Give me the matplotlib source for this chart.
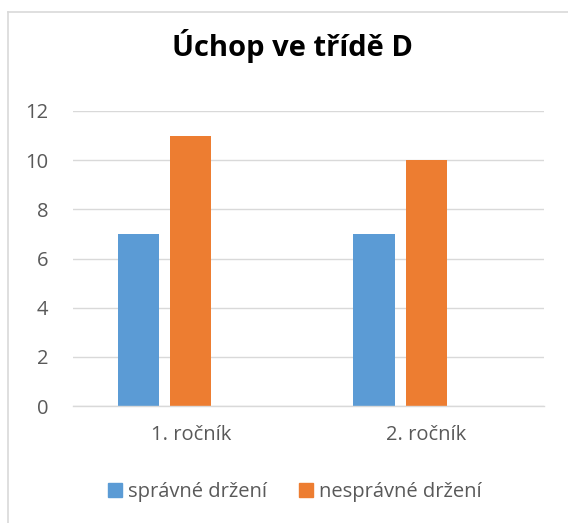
import numpy as np
import matplotlib.pyplot as plt
from matplotlib.lines import Line2D
from matplotlib.patches import Patch

plt.rcParams['font.family'] = ['Open Sans', 'DejaVu Sans']

# ---------------- data ----------------
categories = ['1. ročník', '2. ročník']
series_names = ['správné držení', 'nesprávné držení']
spravne = [7, 7]
nespravne = [11, 10]
title = 'Úchop ve třídě D'

blue, orange = '#5b9bd5', '#ed7d31'
grey_txt = '#595959'
grid_c = '#d9d9d9'

W, H = 568, 523
fig = plt.figure(figsize=(W / 100, H / 100), dpi=100)
ax = fig.add_axes([73 / W, 1 - 406 / H, (544 - 73) / W, (406 - 111) / H])

x = np.arange(len(categories))
bw, step = 0.1755, 0.2225
ax.bar(x - step, spravne, width=bw, color=blue, label=series_names[0])
ax.bar(x, nespravne, width=bw, color=orange, label=series_names[1])

ax.set_xlim(-0.5, len(categories) - 0.5)
ax.set_ylim(0, 12)
ax.set_yticks(np.arange(0, 13, 2))
ax.set_xticks(x)
ax.set_xticklabels(categories)
ax.yaxis.grid(True, color=grid_c, lw=1.0)
ax.set_axisbelow(True)
for s in ['top', 'right', 'left']:
    ax.spines[s].set_visible(False)
ax.spines['bottom'].set_color(grid_c)
ax.spines['bottom'].set_linewidth(1.0)
ax.tick_params(length=0, labelsize=14.5, colors=grey_txt)
ax.tick_params(axis='y', pad=18)
ax.tick_params(axis='x', pad=14)

fig.text(292 / W, 1 - 46 / H, title, ha='center', va='center',
         fontsize=21, fontweight='bold', color='black')

handles = [Patch(color=blue), Patch(color=orange)]
fig.legend(handles, series_names, loc='center', bbox_to_anchor=(295 / W, 1 - 492 / H),
           ncol=2, frameon=False, fontsize=14.5, labelcolor=grey_txt,
           handlelength=0.7, handleheight=0.7, handletextpad=0.3, columnspacing=1.6)

# chart border (top and left only visible in reference)
fig.add_artist(Line2D([8 / W, 1], [1 - 12 / H, 1 - 12 / H], color=grid_c, lw=1.2))
fig.add_artist(Line2D([8 / W, 8 / W], [0, 1 - 12 / H], color=grid_c, lw=1.2))

fig.savefig('out.png', dpi=100)
